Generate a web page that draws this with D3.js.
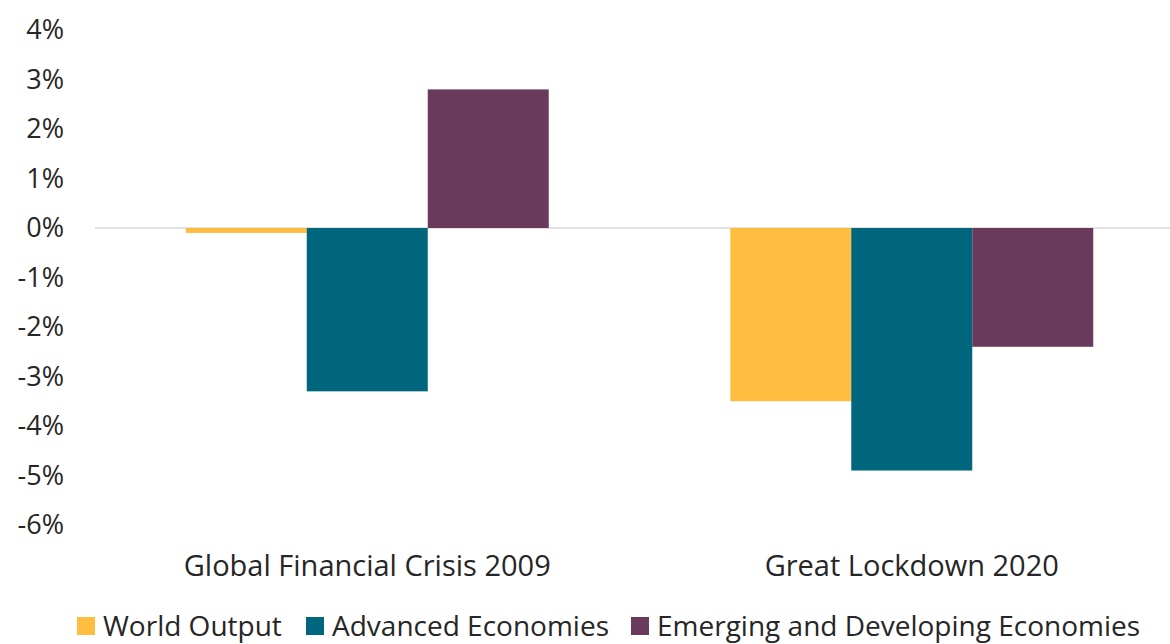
<!DOCTYPE html>
<html><head><meta charset="utf-8">
<script src="https://cdn.jsdelivr.net/npm/d3@7"></script>
<style>body{margin:0;background:#fff;overflow:hidden}text{font-family:"Open Sans",Lato,sans-serif;fill:#262626}</style>
</head><body>
<svg id="c" width="1170" height="644"></svg>
<script>
const categories = ["Global Financial Crisis 2009", "Great Lockdown 2020"];
const series = ["World Output", "Advanced Economies", "Emerging and Developing Economies"];
const worldOutput = [-0.1, -3.5];
const advancedEconomies = [-3.3, -4.9];
const emergingEconomies = [2.8, -2.4];
const yTicks = [4, 3, 2, 1, 0, -1, -2, -3, -4, -5, -6];
const colors = ["#FFBE3F", "#00667E", "#6A3A5C"];

const values = [worldOutput, advancedEconomies, emergingEconomies];
const svg = d3.select("#c");
const y = d3.scaleLinear().domain([-6, 4]).range([525, 30]);
const x0 = d3.scaleBand().domain(categories).range([95, 1184]).paddingInner(1/3).paddingOuter(1/6);
const x1 = d3.scaleBand().domain(series).range([0, x0.bandwidth()]);

// y labels
svg.append("g").selectAll("text").data(yTicks).join("text")
  .attr("x", 64).attr("y", d => y(d)).attr("dy", "0.35em")
  .attr("text-anchor", "end").style("font-size", "27px")
  .text(d => d + "%");

// zero line
svg.append("line").attr("x1", 95).attr("x2", 1184).attr("y1", y(0)).attr("y2", y(0))
  .attr("stroke", "#d9d9d9").attr("stroke-width", 1.5);

// bars
categories.forEach((c, i) => {
  series.forEach((s, j) => {
    const v = values[j][i];
    svg.append("rect")
      .attr("x", x0(c) + x1(s)).attr("width", x1.bandwidth())
      .attr("y", y(Math.max(0, v))).attr("height", Math.abs(y(v) - y(0)))
      .attr("fill", colors[j]);
  });
});

// category labels
svg.append("g").selectAll("text").data(categories).join("text")
  .attr("x", d => x0(d) + x0.bandwidth() / 2).attr("y", 566).attr("dy", "0.35em")
  .attr("text-anchor", "middle").style("font-size", "29px")
  .text(d => d);

// legend
const legendX = [77, 306, 631];
const lg = svg.append("g").selectAll("g").data(series).join("g")
  .attr("transform", (d, i) => `translate(${legendX[i]},617)`);
lg.append("rect").attr("width", 18).attr("height", 18).attr("fill", (d, i) => colors[i]);
lg.append("text").attr("x", 26).attr("y", 9).attr("dy", "0.36em").style("font-size", "28px").text(d => d);
</script>
</body></html>
